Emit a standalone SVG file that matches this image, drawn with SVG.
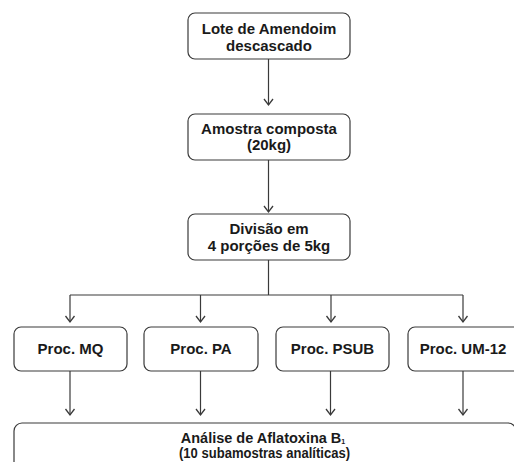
<svg xmlns="http://www.w3.org/2000/svg" width="514" height="462" viewBox="0 0 514 462">
<style>
.box{fill:#fff;stroke:#3a3a3a;stroke-width:1.2}
.t{font-family:"Liberation Sans",Arial,sans-serif;font-weight:bold;font-size:15px;fill:#1a1a1a;text-anchor:middle}
.c{fill:none;stroke:#3a3a3a;stroke-width:1.2}
</style>
<defs>
<marker id="ah" markerWidth="12" markerHeight="12" refX="9" refY="6" orient="auto" markerUnits="userSpaceOnUse">
<path d="M3,1.5 L9,6 L3,10.5" fill="none" stroke="#3a3a3a" stroke-width="1.3"/>
</marker>
</defs>
<rect width="514" height="462" fill="#fff"/>
<g id="connectors">
<line class="c" x1="268.5" y1="59" x2="268.5" y2="105" marker-end="url(#ah)"/>
<line class="c" x1="268.5" y1="160" x2="268.5" y2="212" marker-end="url(#ah)"/>
<line class="c" x1="268.5" y1="260" x2="268.5" y2="295"/>
<line class="c" x1="70" y1="295" x2="463" y2="295"/>
<line class="c" x1="70" y1="295" x2="70" y2="322" marker-end="url(#ah)"/>
<line class="c" x1="200.5" y1="295" x2="200.5" y2="322" marker-end="url(#ah)"/>
<line class="c" x1="331" y1="295" x2="331" y2="322" marker-end="url(#ah)"/>
<line class="c" x1="463" y1="295" x2="463" y2="322" marker-end="url(#ah)"/>
<line class="c" x1="70" y1="371" x2="70" y2="415" marker-end="url(#ah)"/>
<line class="c" x1="200.5" y1="371" x2="200.5" y2="415" marker-end="url(#ah)"/>
<line class="c" x1="330.5" y1="371" x2="330.5" y2="415" marker-end="url(#ah)"/>
<line class="c" x1="463" y1="371" x2="463" y2="415" marker-end="url(#ah)"/>
</g>
<g id="lote">
<rect class="box" x="188" y="13" width="162" height="46" rx="7"/>
<text class="t" x="269" y="33.5">Lote de Amendoim</text>
<text class="t" x="269" y="50.5">descascado</text>
</g>
<g id="amostra">
<rect class="box" x="188" y="114" width="162" height="46" rx="7"/>
<text class="t" x="269" y="133.5">Amostra composta</text>
<text class="t" x="269" y="150">(20kg)</text>
</g>
<g id="divisao">
<rect class="box" x="188" y="214" width="162" height="46" rx="7"/>
<text class="t" x="269" y="233.5">Divisão em</text>
<text class="t" x="269" y="250.5">4 porções de 5kg</text>
</g>
<g id="mq">
<rect class="box" x="14" y="327" width="113" height="44" rx="7"/>
<text class="t" x="70.5" y="354">Proc. MQ</text>
</g>
<g id="pa">
<rect class="box" x="144" y="327" width="114" height="44" rx="7"/>
<text class="t" x="201" y="354">Proc. PA</text>
</g>
<g id="psub">
<rect class="box" x="276" y="327" width="113" height="44" rx="7"/>
<text class="t" x="332.5" y="354">Proc. PSUB</text>
</g>
<g id="um12">
<rect class="box" x="408" y="327" width="116" height="44" rx="7"/>
<text class="t" x="463" y="354">Proc. UM-12</text>
</g>
<g id="analise">
<rect class="box" x="14" y="423" width="502" height="60" rx="8"/>
<text class="t" x="263" y="442.5" style="font-size:14.5px">Análise de Aflatoxina B<tspan style="font-size:7px" dy="1">1</tspan></text>
<text class="t" x="264.5" y="457.5" style="font-size:14.5px" textLength="171" lengthAdjust="spacingAndGlyphs">(10 subamostras analíticas)</text>
</g>
</svg>
